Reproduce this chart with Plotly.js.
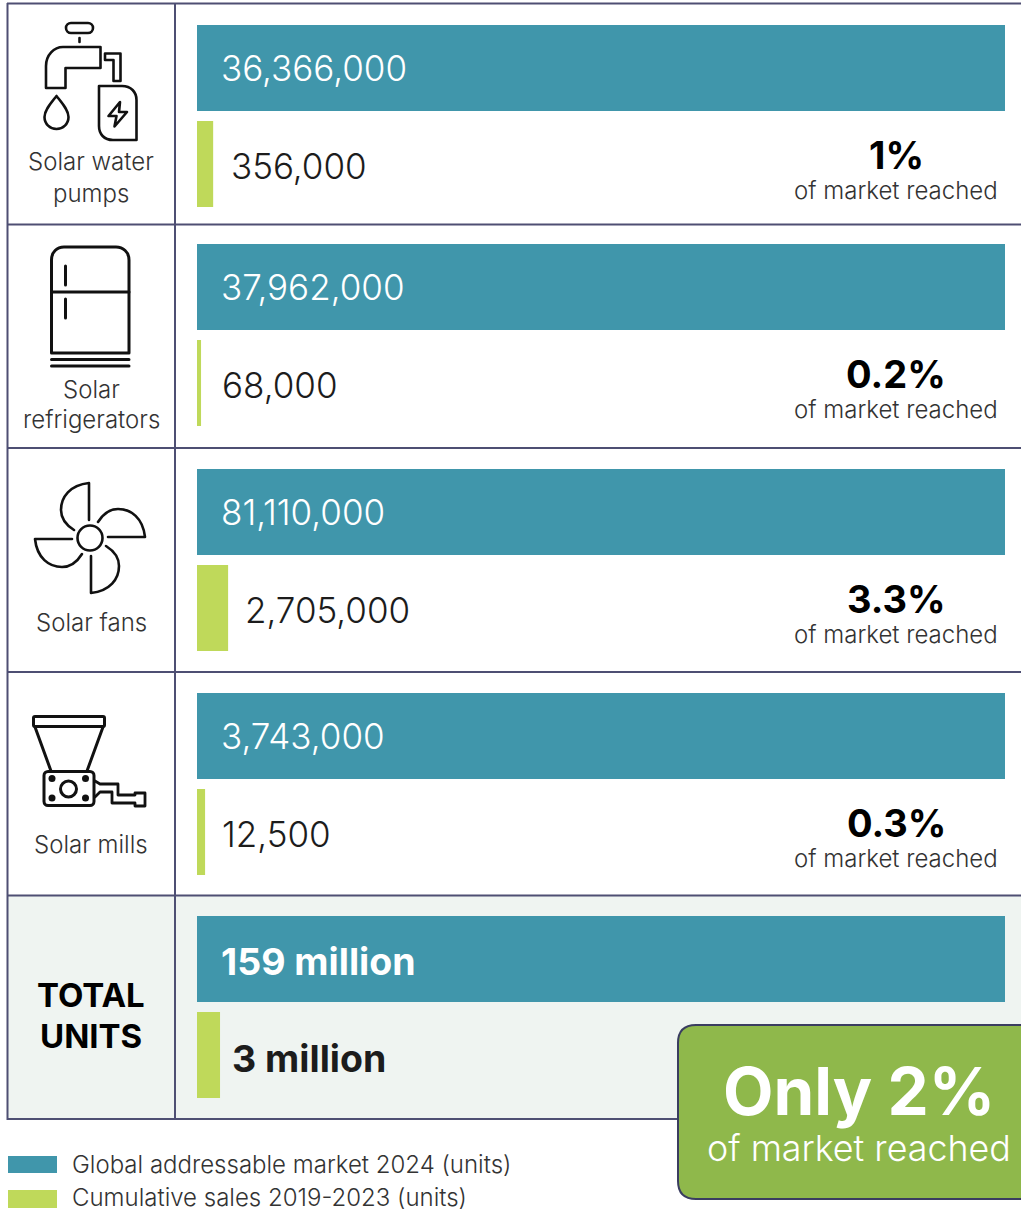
<!DOCTYPE html>
<html><head><meta charset="utf-8">
<script src="https://cdn.plot.ly/plotly-3.0.1.min.js"></script>
<style>html,body{margin:0;padding:0;background:#fff}#chart{width:1021px;height:1209px}</style>
</head><body><div id="chart"></div>
<script>
// ---- data ----
const rowLabels = [["Solar water", "pumps"], ["Solar", "refrigerators"], ["Solar fans"], ["Solar mills"], ["TOTAL", "UNITS"]];
const seriesNames = ["Global addressable market 2024 (units)", "Cumulative sales 2019-2023 (units)"];
const marketLabels = ["36,366,000", "37,962,000", "81,110,000", "3,743,000", "159 million"];
const salesLabels = ["356,000", "68,000", "2,705,000", "12,500", "3 million"];
const shareLabels = ["1%", "0.2%", "3.3%", "0.3%"];
const shareCaption = "of market reached";
const marketBarLength = [100, 100, 100, 100, 100];
const salesBarLength = [2.0, 0.5, 3.85, 1.0, 2.85];

// ---- layout constants ----
const W = 1021, H = 1209;
const xLeft = 197, xRight = 1005;
const unit = (xRight - xLeft) / 100;
const rowTop = [25, 244, 469, 693, 916];
const rowLines = [3.5, 224.5, 448, 672, 895.5, 1119];
const salesLabelGap = [16, 19, 15, 15, 10];
const BLUE = "#4096ab", GREEN = "#bfd95a", GRID = "#4e4f73", INK = "#1c1c1c";
const LIGHT = "Inter", HEAVY = "Inter";
const fx = p => p / W, fy = p => 1 - p / H;

const traces = [], annotations = [], shapes = [], images = [];
const layout = {
  width: W, height: H, margin: {l: 0, r: 0, t: 0, b: 0},
  paper_bgcolor: "#fff", plot_bgcolor: "rgba(0,0,0,0)", showlegend: false,
  barmode: "overlay", bargap: 10 / 96,
  xaxis: {range: [-xLeft / unit, (W - xLeft) / unit], domain: [0, 1], visible: false, fixedrange: true}
};

rowLabels.forEach((label, i) => {
  const ax = i === 0 ? "y" : "y" + (i + 1);
  const top = rowTop[i] - 5, isTotal = i === rowLabels.length - 1;
  layout[i === 0 ? "yaxis" : "yaxis" + (i + 1)] = {
    type: "category", categoryorder: "array", categoryarray: seriesNames,
    range: [1.5, -0.5], domain: [1 - (top + 192) / H, 1 - top / H], visible: false, fixedrange: true, anchor: "x"
  };
  traces.push({type: "bar", orientation: "h", name: seriesNames[0], xaxis: "x", yaxis: ax,
    y: [seriesNames[0]], x: [marketBarLength[i]], marker: {color: BLUE, line: {width: 0}}, hoverinfo: "skip"});
  traces.push({type: "bar", orientation: "h", name: seriesNames[1], xaxis: "x", yaxis: ax,
    y: [seriesNames[1]], x: [salesBarLength[i]], marker: {color: GREEN, line: {width: 0}}, hoverinfo: "skip"});

  annotations.push({xref: "x", yref: ax, x: 0, y: seriesNames[0], xshift: 22, yshift: isTotal ? -2 : 0, xanchor: "left", yanchor: "middle", showarrow: false,
    text: isTotal ? "<b>" + marketLabels[i] + "</b>" : marketLabels[i],
    font: isTotal ? {family: HEAVY, size: 37.5, color: "#fff", weight: 700} : {family: LIGHT, size: 35, color: "#fff", weight: 300}});
  annotations.push({xref: "x", yref: ax, x: salesBarLength[i], y: seriesNames[1], xshift: salesLabelGap[i], yshift: isTotal ? -3 : -2, xanchor: "left", yanchor: "middle", showarrow: false,
    text: isTotal ? "<b>" + salesLabels[i] + "</b>" : salesLabels[i],
    font: isTotal ? {family: HEAVY, size: 37.5, color: INK, weight: 700} : {family: LIGHT, size: 35, color: INK, weight: 300}});
  if (!isTotal) {
    annotations.push({xref: "paper", yref: ax, x: fx(896), y: seriesNames[1], yshift: 9, xanchor: "center", yanchor: "middle", showarrow: false,
      text: "<b>" + shareLabels[i] + "</b>", font: {family: HEAVY, size: 38, color: "#000", weight: 700}});
    annotations.push({xref: "paper", yref: ax, x: fx(896), y: seriesNames[1], yshift: -26, xanchor: "center", yanchor: "middle", showarrow: false,
      text: shareCaption, font: {family: LIGHT, size: 24, color: "#333", weight: 300}});
  }
});

// row headings, one line each
const headingY = [[162, 193], [389, 420], [622], [844], [995, 1036]];
rowLabels.forEach((lines, i) => {
  const isTotal = i === rowLabels.length - 1;
  lines.forEach((line, j) => annotations.push({xref: "paper", yref: "paper", x: fx(91), y: fy(headingY[i][j]), xanchor: "center", yanchor: "middle", showarrow: false,
    text: isTotal ? "<b>" + line + "</b>" : line,
    font: isTotal ? {family: HEAVY, size: 33, color: "#000", weight: 700} : {family: LIGHT, size: 24, color: "#333", weight: 300}}));
});

// table frame
const frame = {width: 2, color: GRID};
shapes.push({type: "rect", layer: "below", xref: "paper", yref: "paper", x0: fx(7), x1: 1, y0: fy(896), y1: fy(1119), fillcolor: "#eff4f1", line: {width: 0}});
rowLines.forEach(y => shapes.push({type: "line", layer: "below", xref: "paper", yref: "paper", x0: fx(7), x1: 1, y0: fy(y), y1: fy(y), line: frame}));
[7.5, 175].forEach(x => shapes.push({type: "line", layer: "below", xref: "paper", yref: "paper", x0: fx(x), x1: fx(x), y0: fy(3), y1: fy(1120), line: frame}));

// call-out box
const bx0 = fx(678), bx1 = fx(1040), by0 = fy(1025), by1 = fy(1199), rx = 18 / W, ry = 18 / H;
shapes.push({type: "path", layer: "above", xref: "paper", yref: "paper", fillcolor: "#8fb84b", line: {color: "#3a3d60", width: 2},
  path: `M ${bx0 + rx} ${by0} L ${bx1} ${by0} L ${bx1} ${by1} L ${bx0 + rx} ${by1} Q ${bx0} ${by1} ${bx0} ${by1 + ry} L ${bx0} ${by0 - ry} Q ${bx0} ${by0} ${bx0 + rx} ${by0} Z`});
annotations.push({xref: "paper", yref: "paper", x: fx(859), y: fy(1091), xanchor: "center", yanchor: "middle", showarrow: false,
  text: "<b>Only 2%</b>", font: {family: HEAVY, size: 65.5, color: "#fff", weight: 700}});
annotations.push({xref: "paper", yref: "paper", x: fx(859), y: fy(1148), xanchor: "center", yanchor: "middle", showarrow: false,
  text: shareCaption, font: {family: LIGHT, size: 35.8, color: "#fff", weight: 300}});

// legend
[[1156, 1173, BLUE, 1164], [1190, 1208, GREEN, 1197]].forEach((l, i) => {
  shapes.push({type: "rect", layer: "above", xref: "paper", yref: "paper", x0: fx(8), x1: fx(57), y0: fy(l[0]), y1: fy(l[1]), fillcolor: l[2], line: {width: 0}});
  annotations.push({xref: "paper", yref: "paper", x: fx(70), y: fy(l[3]), xanchor: "left", yanchor: "middle", showarrow: false,
    text: seriesNames[i], font: {family: LIGHT, size: 24, color: "#333", weight: 300}});
});

// icons
function icon(x, y, w, h, body) {
  const svg = `<svg xmlns="http://www.w3.org/2000/svg" width="${w}" height="${h}" viewBox="${x} ${y} ${w} ${h}"><g fill="none" stroke="#111" stroke-width="2.6" stroke-linejoin="round" stroke-linecap="round">${body}</g></svg>`;
  images.push({source: "data:image/svg+xml;charset=utf-8," + encodeURIComponent(svg), xref: "paper", yref: "paper",
    x: fx(x), y: fy(y), sizex: w / W, sizey: h / H, xanchor: "left", yanchor: "top", sizing: "stretch", layer: "above"});
}
icon(30, 15, 120, 135,
  `<rect x="66" y="23" width="27" height="10" rx="5"/><path d="M79.5 38V42"/>
   <path d="M46 88V66C46 55 54 47 63 47H100.5V68H65.5V88Z"/>
   <path d="M56.5 96C51 103 44.5 110 44.5 117C44.5 124 50 129 56.5 129C63 129 68.5 124 68.5 117C68.5 110 62 103 56.5 96Z"/>
   <path d="M105 53.5H120.5V81H113.5V60H105Z"/>
   <path d="M99 86H122C131 86 136.5 92 136.5 100V140H113C104 140 99 134 99 126Z"/>
   <path d="M120 102L108.5 116H116.5L114.5 126.5L127 112H119Z"/>`);
icon(40, 240, 100, 135,
  `<path d="M51.5 353V260C51.5 252 57 247 64 247H116C123 247 129 252 129 260V353Z" stroke-width="3"/>
   <path d="M51.5 292H129M65.5 266V285M65.5 299V318M51.5 359.5H129M51.5 366H129" stroke-width="3"/>`);
icon(25, 475, 130, 130,
  `<circle cx="90" cy="538" r="12.5"/>` + [0, 90, 180, 270].map(a =>
    `<path transform="rotate(${a} 90 538)" d="M89 520V483C70 485 61 497 61 510C61 518 66 525 74 530"/>`).join(""));
icon(25, 708, 130, 105,
  `<rect x="33.5" y="716.5" width="71" height="10" rx="1.5" stroke-width="3"/>
   <path d="M35 727L51 771M103 727L87 771" stroke-width="3"/>
   <rect x="44" y="771.5" width="50" height="34" rx="4" stroke-width="3"/>
   <circle cx="68.5" cy="789" r="8" stroke-width="3"/>
   <g fill="#111" stroke="none"><circle cx="52" cy="778.5" r="3.5"/><circle cx="85.5" cy="778.5" r="3.5"/><circle cx="52" cy="798" r="3.5"/><circle cx="85.5" cy="798" r="3.5"/></g>
   <path d="M95 781L100 784H118V795H135V793H145V806H135V803H112V792H100L95 797" stroke-width="2.8"/>`);

layout.annotations = annotations;
layout.shapes = shapes;
layout.images = images;
Plotly.newPlot("chart", traces, layout, {displayModeBar: false, responsive: false});
</script></body></html>
